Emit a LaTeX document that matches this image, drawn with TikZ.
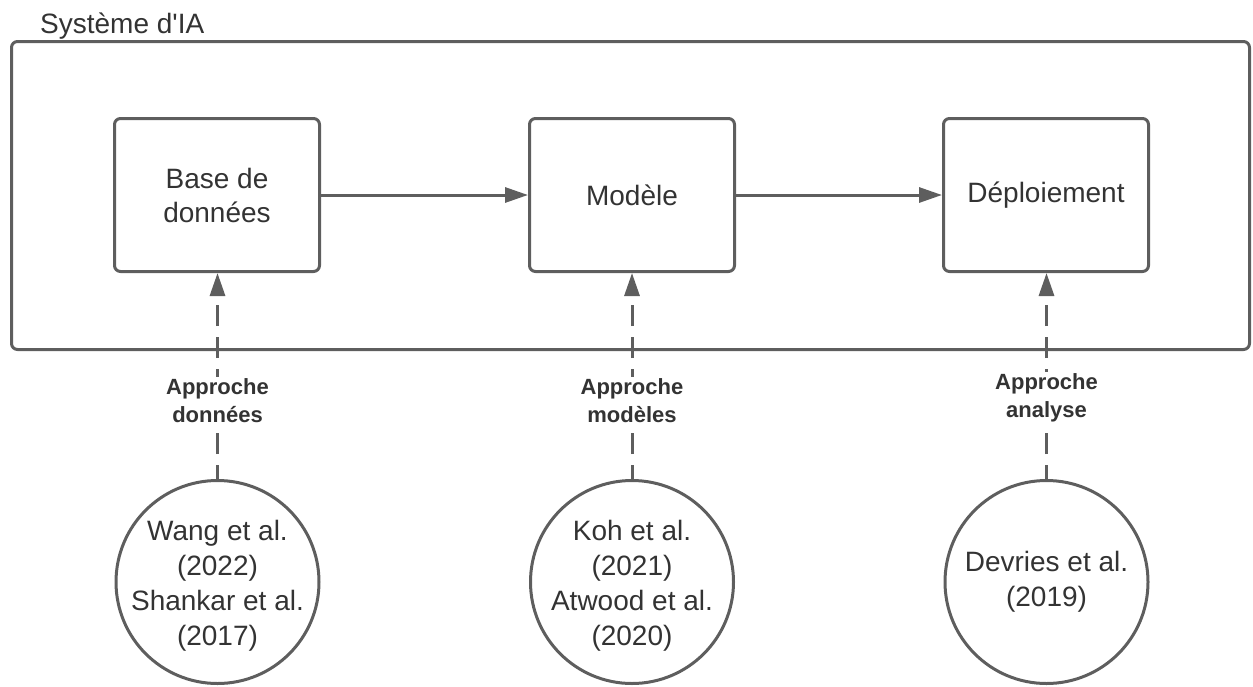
\documentclass[tikz,border=0pt]{standalone}
\usepackage{fontspec}
\setmainfont{Liberation Sans}[Ligatures=TeXOff]
\usetikzlibrary{arrows.meta}

\definecolor{linecol}{HTML}{5E5E5E}
\definecolor{txt}{HTML}{333333}

\tikzset{
  sysframe/.style={draw=linecol, line width=3pt, rounded corners=6pt},
  stagebox/.style={sysframe, minimum width=205pt, minimum height=153pt,
    inner sep=0pt, text=txt, font=\fontsize{28}{34}\selectfont, align=center},
  citecircle/.style={circle, draw=linecol, line width=3pt, minimum size=203pt, inner sep=0pt},
  citetext/.style={text=txt, font=\fontsize{28}{35}\selectfont, align=center},
  flow/.style={draw=linecol, line width=3pt, -{Triangle[length=23pt,width=15pt]}},
  approach/.style={flow, dash pattern=on 21pt off 11pt, dash phase=7pt},
  tag/.style={fill=white, text=txt, font=\bfseries\fontsize{22}{28}\selectfont,
    align=center, inner sep=2pt}
}

\begin{document}
\begin{tikzpicture}[x=1pt, y=-1pt]
  \useasboundingbox (0,0) rectangle (1253,686);

  % AI system boundary and its title
  \node[sysframe, minimum width=1238pt, minimum height=308pt, inner sep=0pt] (system) at (630.5,195.5) {};
  \node[anchor=base west, text=txt, font=\fontsize{28}{34}\selectfont, inner sep=0pt] (title) at (40,33) {Système d'IA};

  % pipeline stages
  \node[stagebox] (data)   at (217,195)  {Base de\\données};
  \node[stagebox] (model)  at (632,195)  {Modèle};
  \node[stagebox] (deploy) at (1046,195) {Déploiement};

  \draw[flow] (data.east) -- (model.west);
  \draw[flow] (model.east) -- (deploy.west);

  % related work
  \node[citecircle] (c1) at (217.5,582) {};
  \node[citetext] (t1) at ([yshift=-4pt]c1.center) {Wang et al.\\(2022)\\Shankar et al.\\(2017)};
  \node[citecircle] (c2) at (632,582) {};
  \node[citetext] (t2) at ([yshift=-4pt]c2.center) {Koh et al.\\(2021)\\Atwood et al.\\(2020)};
  \node[citecircle] (c3) at (1046.5,582) {};
  \node[citetext] (t3) at (c3.center) {Devries et al.\\(2019)};

  % approaches linking the work to the stages
  \draw[approach] (c1.north) -- (c1.north |- data.south);
  \draw[approach] (c2.north) -- (c2.north |- model.south);
  \draw[approach] (c3.north) -- (c3.north |- deploy.south);

  \node[tag] (a1) at (217.5,401) {Approche\\données};
  \node[tag] (a2) at (632,401)   {Approche\\modèles};
  \node[tag] (a3) at (1046.5,398) {Approche\\analyse};
\end{tikzpicture}
\end{document}
